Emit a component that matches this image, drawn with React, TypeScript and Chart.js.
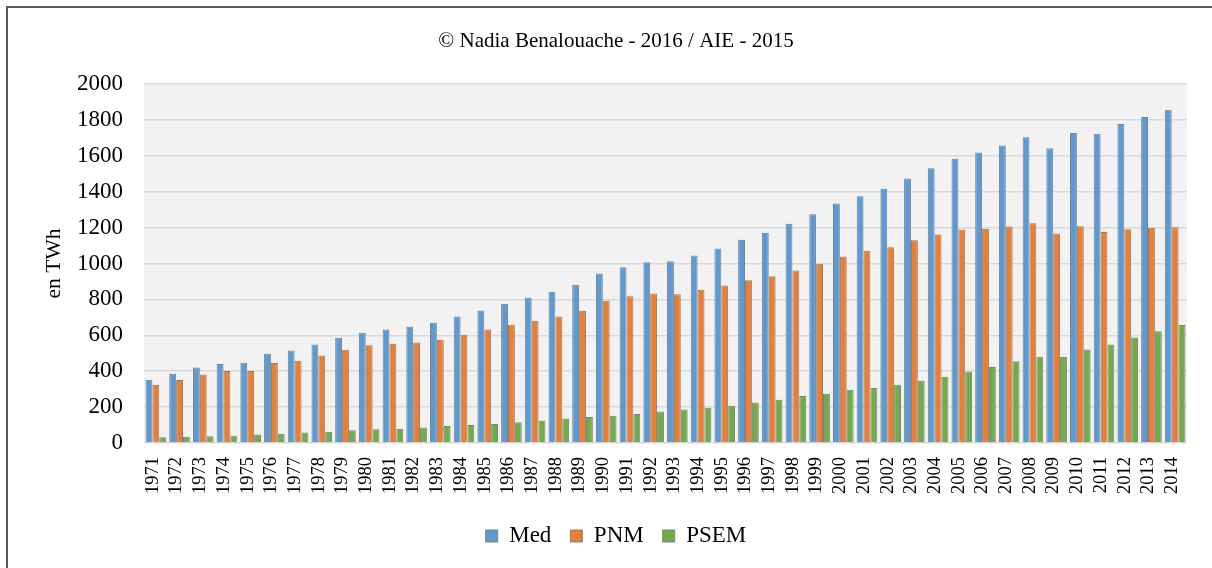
import React, { useEffect, useRef } from "react";
import { Chart, registerables } from "chart.js";

Chart.register(...registerables);

const years = [
  "1971","1972","1973","1974","1975","1976","1977","1978","1979","1980",
  "1981","1982","1983","1984","1985","1986","1987","1988","1989","1990",
  "1991","1992","1993","1994","1995","1996","1997","1998","1999","2000",
  "2001","2002","2003","2004","2005","2006","2007","2008","2009","2010",
  "2011","2012","2013","2014",
];

const medValues = [
  353, 386, 420, 440, 447, 497, 516, 549, 586, 614,
  633, 648, 670, 705, 738, 776, 809, 842, 881, 944,
  979, 1007, 1013, 1045, 1083, 1132, 1171, 1221, 1274, 1334,
  1375, 1416, 1473, 1530, 1584, 1619, 1658, 1703, 1642, 1727,
  1723, 1777, 1816, 1857,
];

const pnmValues = [
  325, 351, 382, 401, 401, 445, 458, 488, 520, 544,
  553, 560, 575, 603, 633, 659, 681, 705, 737, 792,
  818, 833, 829, 854, 878, 907, 929, 961, 998, 1039,
  1071, 1091, 1130, 1161, 1189, 1193, 1206, 1224, 1167, 1208,
  1176, 1191, 1199, 1202,
];

const psemValues = [
  32, 35, 37, 41, 47, 52, 58, 63, 71, 76,
  78, 87, 95, 100, 106, 115, 126, 136, 145, 152,
  161, 175, 186, 197, 208, 225, 241, 262, 275, 297,
  306, 325, 347, 369, 399, 423, 455, 481, 479, 521,
  549, 588, 623, 657,
];

const seriesNames = ["Med", "PNM", "PSEM"];
const seriesColors = ["#5b9bd5", "#ed7d31", "#70ad47"];

const titleText = "© Nadia Benalouache - 2016 / AIE - 2015";
const yAxisTitle = "en TWh";

const FONT = "'Liberation Serif', 'Times New Roman', serif";

const plotBackground = {
  id: "plotBackground",
  beforeDraw(chart: any) {
    const { ctx, chartArea } = chart;
    if (!chartArea) return;
    ctx.save();
    ctx.fillStyle = "#f2f2f2";
    ctx.fillRect(chartArea.left, chartArea.top, chartArea.right - chartArea.left, chartArea.bottom - chartArea.top);
    ctx.restore();
  },
};

export default function App() {
  const canvasRef = useRef<HTMLCanvasElement | null>(null);

  useEffect(() => {
    if (!canvasRef.current) return;
    const allValues = [medValues, pnmValues, psemValues];
    const chart = new Chart(canvasRef.current, {
      type: "bar",
      data: {
        labels: years,
        datasets: seriesNames.map((name, i) => ({
          label: name,
          data: allValues[i],
          backgroundColor: seriesColors[i],
          borderColor: "#808080",
          borderWidth: 1,
          barPercentage: 1.0,
          categoryPercentage: 0.87,
        })),
      },
      options: {
        responsive: false,
        animation: false,
        layout: { padding: { left: 45, right: 25, top: 0, bottom: 10.5 } },
        plugins: {
          tooltip: { enabled: false },
          title: {
            display: true,
            text: titleText,
            color: "#000",
            font: { family: FONT, size: 21, weight: "normal", lineHeight: 1.2 },
            padding: { top: 28.4, bottom: 30.4 },
          },
          legend: {
            display: true,
            position: "bottom",
            labels: {
              color: "#000",
              font: { family: FONT, size: 23 },
              boxWidth: 12,
              boxHeight: 12,
              padding: 19,
            },
          },
        },
        scales: {
          x: {
            grid: { display: false, drawTicks: false },
            border: { display: false },
            ticks: {
              color: "#000",
              font: { family: FONT, size: 18.5 },
              minRotation: 90,
              maxRotation: 90,
              autoSkip: false,
              padding: 14,
              labelOffset: -3,
            },
            afterFit(scale: any) {
              scale.height = 62.5;
            },
          },
          y: {
            min: 0,
            max: 2000,
            grid: { color: "#d9d9d9", lineWidth: 1.5, drawTicks: false },
            border: { display: false },
            ticks: {
              stepSize: 200,
              color: "#000",
              font: { family: FONT, size: 23 },
              padding: 21,
              callback: (v: any) => String(v),
            },
            title: {
              display: true,
              text: yAxisTitle,
              color: "#000",
              font: { family: FONT, size: 21.5, lineHeight: 1 },
              padding: { top: -1, bottom: 0 },
            },
            afterFit(scale: any) {
              scale.width = 99;
            },
          },
        },
      },
      plugins: [plotBackground],
    } as any);
    return () => chart.destroy();
  }, []);

  return (
    <div style={{ position: "fixed", left: 0, top: 0, width: 1212, height: 568, overflow: "hidden", background: "#fff" }}>
      <div
        style={{
          position: "absolute",
          left: 6,
          top: 6,
          width: 1400,
          height: 800,
          border: "2px solid #595959",
          boxSizing: "border-box",
        }}
      />
      <canvas
        ref={canvasRef}
        width={1212}
        height={568}
        style={{ position: "absolute", left: 0, top: 0, width: 1212, height: 568 }}
      />
    </div>
  );
}
